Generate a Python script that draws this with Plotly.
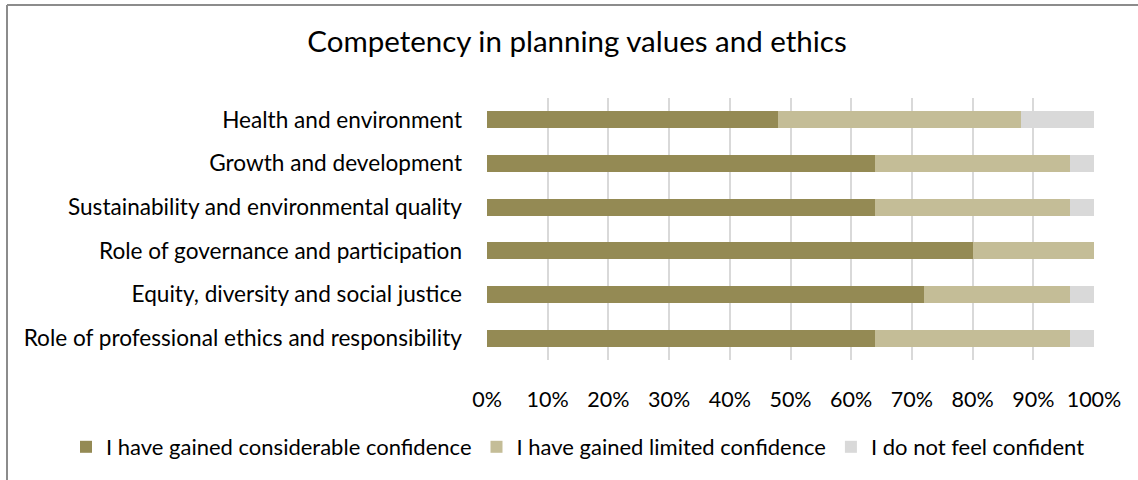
import plotly.graph_objects as go

categories = [
    "Health and environment",
    "Growth and development",
    "Sustainability and environmental quality",
    "Role of governance and participation",
    "Equity, diversity and social justice",
    "Role of professional ethics and responsibility",
]
considerable = [48, 64, 64, 80, 72, 64]
limited = [40, 32, 32, 20, 24, 32]
not_confident = [12, 4, 4, 0, 4, 4]
series_names = [
    "I have gained considerable confidence",
    "I have gained limited confidence",
    "I do not feel confident",
]
colors = ["#948A54", "#C4BD97", "#D9D9D9"]
tick_vals = [i / 10 for i in range(11)]
tick_text = [f"{i*10}%" for i in range(11)]

W, H = 1138, 480
L, R, T, B = 487, 44, 98, 120
FONT = "Lato"
FS = 21.5

fig = go.Figure()
for name, vals, col in zip(series_names, [considerable, limited, not_confident], colors):
    fig.add_trace(go.Bar(
        y=categories,
        x=[v / 100 for v in vals],
        name=name,
        orientation="h",
        marker=dict(color=col, line=dict(width=0)),
    ))

pw = W - L - R
ph = H - T - B

fig.update_layout(
    width=W, height=H,
    margin=dict(l=L, r=R, t=T, b=B, autoexpand=False),
    barmode="stack",
    bargap=0.61,
    paper_bgcolor="white",
    plot_bgcolor="white",
    font=dict(family=FONT, size=FS, color="#000000"),
    title=dict(
        text="Competency in planning values and ethics",
        x=577 / W, xanchor="center", xref="container",
        y=1 - 42 / H, yanchor="middle", yref="container",
        font=dict(family=FONT, size=29.5, color="#000000"),
    ),
    xaxis=dict(
        range=[0, 1],
        tickvals=tick_vals,
        ticktext=tick_text,
        showgrid=True,
        gridcolor="#D9D9D9",
        gridwidth=2,
        zeroline=False,
        showline=False,
        ticks="",
        ticklabelstandoff=24,
        tickfont=dict(family=FONT, size=FS, color="#000000"),
        fixedrange=True,
    ),
    yaxis=dict(
        categoryorder="array",
        categoryarray=categories,
        autorange="reversed",
        showgrid=False,
        zeroline=False,
        showline=False,
        ticks="",
        ticklabelstandoff=24,
        tickfont=dict(family=FONT, size=22.6, color="#000000"),
        fixedrange=True,
    ),
    legend=dict(
        orientation="h",
        xref="paper", yref="paper",
        x=(66 - L) / pw, xanchor="left",
        y=(H - B - 447) / ph, yanchor="middle",
        font=dict(family=FONT, size=22, color="#000000"),
        traceorder="normal",
        bgcolor="rgba(0,0,0,0)",
    ),
    showlegend=True,
    shapes=[
        dict(type="line", xref="paper", yref="paper",
             x0=(7 - L) / pw, x1=(W - L) / pw,
             y0=(H - B - 5) / ph, y1=(H - B - 5) / ph,
             line=dict(color="#8C8C8C", width=2)),
        dict(type="line", xref="paper", yref="paper",
             x0=(7 - L) / pw, x1=(7 - L) / pw,
             y0=(H - B - 5) / ph, y1=(H - B - H - 5) / ph,
             line=dict(color="#8C8C8C", width=2)),
    ],
)

fig.write_html("out.html")
